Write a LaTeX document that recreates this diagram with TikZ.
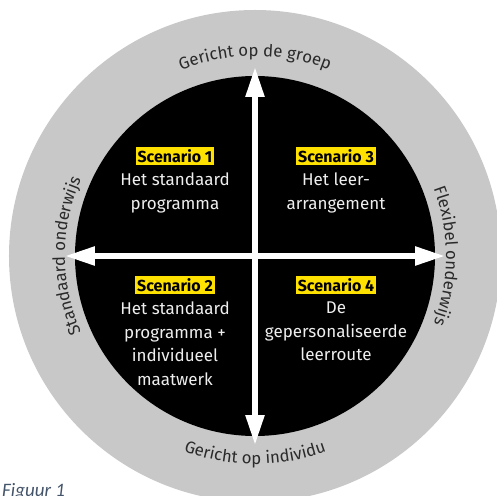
\documentclass[tikz,border=0pt]{standalone}
\usepackage{fontspec}
\setmainfont{Fira Sans}
\newfontfamily\capfont{Carlito}
\usetikzlibrary{arrows.meta,positioning,decorations.text}

\definecolor{ringgray}{HTML}{C8C8C8}
\definecolor{scenyellow}{HTML}{FFE100}
\definecolor{bodywhite}{HTML}{EEEEEE}
\definecolor{labeldark}{HTML}{2A2A2A}
\definecolor{capblue}{HTML}{44546A}

\newcommand{\ringsize}{\fontsize{16.8}{20}\selectfont}

\tikzset{
  scen/.style={fill=scenyellow, text=black, inner sep=2pt,
    font=\bfseries\fontsize{16}{19}\selectfont},
  body/.style={text=bodywhite, align=center, inner sep=0pt,
    font=\fontsize{17}{23.5}\selectfont},
  axisline/.style={white, line width=5.5pt,
    {Triangle[length=30pt,width=18pt]}-{Triangle[length=30pt,width=18pt]}},
  ringtext/.style={decorate, decoration={text along path, text align=center,
    text color=labeldark}}
}

\begin{document}
\begin{tikzpicture}[x=1pt,y=1pt]

% 画布大小
\useasboundingbox (-255,-239) rectangle (242,256);

% 定义圆心和坐标轴端点
\coordinate (O) at (0,0);
\coordinate (Top) at (0,189);
\coordinate (Bot) at (0,-189);
\coordinate (Left) at (-190,0);
\coordinate (Right) at (190,0);

% 外环和内圆
\fill[ringgray] (O) circle (246);
\fill[black] (O) circle (180);

% 坐标轴
\draw[axisline] (Bot) -- (Top);
\draw[axisline] (Left) -- (Right);

% 环上的文字
\path[ringtext, decoration={text={|\ringsize|Gericht op de groep}}]
  (150:200) arc[start angle=150, end angle=30, radius=200];
\path[ringtext, decoration={text={|\ringsize|Gericht op individu}}]
  (210:208) arc[start angle=210, end angle=330, radius=208];
\path[ringtext, decoration={text={|\ringsize|Standaard onderwijs}}]
  (240:190) arc[start angle=240, end angle=120, radius=190];
\path[ringtext, decoration={text={|\ringsize|Flexibel onderwijs}}]
  (60:191) arc[start angle=60, end angle=-60, radius=191];

% 四个象限
\node[scen] (S1) at (-80,100) {Scenario 1};
\node[body, below=8pt of S1] (B1) {Het standaard\\programma};

\node[scen] (S3) at (81,100) {Scenario 3};
\node[body, below=8pt of S3] (B3) {Het leer-\\arrangement};

\node[scen] (S2) at (-80,-29) {Scenario 2};
\node[body, below=8pt of S2] (B2) {Het standaard\\programma +\\individueel\\maatwerk};

\node[scen] (S4) at (81,-29) {Scenario 4};
\node[body, below=8pt of S4] (B4) {De\\gepersonaliseerde\\leerroute};

% 图注
\node[anchor=base west, inner sep=0pt, text=capblue,
  font=\capfont\itshape\fontsize{19}{22}\selectfont] (Cap) at (-253,-240) {Figuur 1};

\end{tikzpicture}
\end{document}
